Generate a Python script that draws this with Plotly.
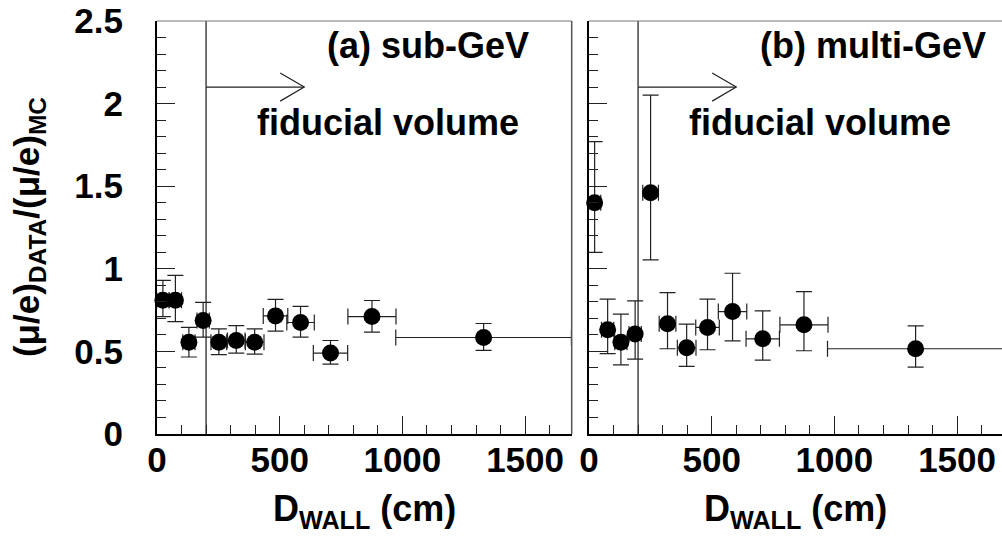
import plotly.graph_objects as go

# ---------------- data ----------------
# (a) sub-GeV
sub_x = [24, 75, 130, 188, 252, 323, 398, 483, 585, 707, 876, 1331]
sub_xerr = [25, 25, 25, 25, 32, 36, 38, 50, 56, 70, 98, 358]
sub_y = [0.81, 0.81, 0.556, 0.687, 0.556, 0.566, 0.556, 0.715, 0.675, 0.490, 0.711, 0.584]
sub_err_up = [0.12, 0.15, 0.09, 0.11, 0.08, 0.09, 0.08, 0.10, 0.097, 0.076, 0.097, 0.085]
sub_err_dn = [0.10, 0.13, 0.09, 0.10, 0.075, 0.076, 0.072, 0.092, 0.089, 0.067, 0.094, 0.078]

# (b) multi-GeV
mul_x = [23, 76, 130, 188, 251, 320, 398, 483, 585, 708, 876, 1331]
mul_xerr = [25, 25, 25, 25, 32, 34, 38, 48, 58, 68, 98, 359]
mul_y = [1.40, 0.631, 0.556, 0.606, 1.461, 0.667, 0.522, 0.645, 0.741, 0.576, 0.661, 0.516]
mul_err_up = [0.37, 0.185, 0.17, 0.20, 0.59, 0.189, 0.143, 0.171, 0.232, 0.169, 0.201, 0.139]
mul_err_dn = [0.30, 0.144, 0.137, 0.153, 0.407, 0.151, 0.113, 0.135, 0.177, 0.129, 0.157, 0.111]

panel_labels = ["(a) sub-GeV", "(b) multi-GeV"]
fiducial_label = "fiducial volume"
x_title = "D<sub>WALL</sub> (cm)"
y_title = "(μ/e)<sub>DATA</sub>/(μ/e)<sub>MC</sub>"

FIDUCIAL_CUT = 200     # cm
ARROW_END = 600        # cm
ARROW_Y = 2.1
X_MAX = 1690
Y_MAX = 2.5

FONT = "Liberation Sans, Arial, Helvetica, sans-serif"

fig = go.Figure()

def add_panel(xs, xe, ys, eu, ed, xa, ya):
    # fiducial cut line
    fig.add_trace(go.Scatter(
        x=[FIDUCIAL_CUT, FIDUCIAL_CUT], y=[0, Y_MAX], mode="lines",
        line=dict(color="#444", width=1.5), xaxis=xa, yaxis=ya,
        showlegend=False, hoverinfo="skip"))
    # arrow shaft + open head
    fig.add_trace(go.Scatter(
        x=[FIDUCIAL_CUT, ARROW_END, None, ARROW_END - 98, ARROW_END, ARROW_END - 98],
        y=[ARROW_Y, ARROW_Y, None, ARROW_Y + 0.085, ARROW_Y, ARROW_Y - 0.085],
        mode="lines", line=dict(color="#222", width=1.2), xaxis=xa, yaxis=ya,
        showlegend=False, hoverinfo="skip"))
    fig.add_trace(go.Scatter(
        x=xs, y=ys, mode="markers",
        marker=dict(symbol="circle", size=17, color="black"),
        error_x=dict(type="data", array=xe, symmetric=True, color="#222",
                     thickness=1.2, width=8),
        error_y=dict(type="data", array=eu, arrayminus=ed, symmetric=False,
                     color="#222", thickness=1.2, width=8),
        cliponaxis=False, xaxis=xa, yaxis=ya, showlegend=False))

add_panel(sub_x, sub_xerr, sub_y, sub_err_up, sub_err_dn, "x", "y")
add_panel(mul_x, mul_xerr, mul_y, mul_err_up, mul_err_dn, "x2", "y2")

L, T, B = 157, 21, 102
W, H = 1002, 536
pw = W - L
d1 = (571.7 - L) / pw
d2 = (589 - L) / pw

xcommon = dict(
    range=[0, X_MAX], dtick=500, tick0=0, ticks="inside", ticklen=18,
    tickwidth=1, tickcolor="#222", showline=True, linecolor="black",
    linewidth=2, showgrid=False, zeroline=False, automargin=False,
    tickfont=dict(family=FONT, size=35, color="black", weight="bold"),
    ticklabelstandoff=-6,
    minor=dict(dtick=100, ticks="inside", ticklen=9, tickcolor="#222",
               tickwidth=1, showgrid=False),
)
ycommon = dict(
    range=[0, Y_MAX], dtick=0.5, tick0=0, ticks="inside", ticklen=18,
    tickwidth=1, tickcolor="#222", showline=True, linecolor="black",
    linewidth=2, showgrid=False, zeroline=False, automargin=False,
    tickfont=dict(family=FONT, size=35, color="black", weight="bold"),
    minor=dict(dtick=0.1, ticks="inside", ticklen=9, tickcolor="#222",
               tickwidth=1, showgrid=False),
)

x2range = [0, (W - 589) / ((571.7 - L) / X_MAX)]

fig.update_layout(
    width=W, height=H,
    margin=dict(l=L, r=0, t=T, b=B),
    paper_bgcolor="white", plot_bgcolor="white",
    xaxis=dict(**xcommon, domain=[0, d1], anchor="y"),
    xaxis2=dict(**{**xcommon, "range": x2range}, domain=[d2, 1], anchor="y2"),
    yaxis=dict(**ycommon, anchor="x", ticklabelstandoff=25),
    yaxis2=dict(**ycommon, anchor="x2", showticklabels=False),
)

# frame top / right edges
for xr, yr, right in [("x domain", "y domain", True), ("x2 domain", "y2 domain", False)]:
    fig.add_shape(type="line", xref=xr, yref=yr, x0=0, x1=1, y0=1, y1=1,
                  line=dict(color="#777", width=1.2))
    if right:
        fig.add_shape(type="line", xref=xr, yref=yr, x0=1, x1=1, y0=0, y1=1,
                      line=dict(color="#555", width=1.5))

txt = dict(family=FONT, size=36, color="black", weight="bold")
fig.add_annotation(x=1525, y=2.35, xref="x", yref="y", text=panel_labels[0],
                   showarrow=False, xanchor="right", yanchor="middle", font=txt)
fig.add_annotation(x=1625, y=2.35, xref="x2", yref="y2", text=panel_labels[1],
                   showarrow=False, xanchor="right", yanchor="middle", font=txt)
for xr, yr in [("x", "y"), ("x2", "y2")]:
    fig.add_annotation(x=398, y=1.885, xref=xr, yref=yr, text=fiducial_label,
                       showarrow=False, xanchor="left", yanchor="middle", font=txt)
for xr in ["x domain", "x2 domain"]:
    fig.add_annotation(x=0.5, y=-0.186, xref=xr, yref="paper", text=x_title,
                       showarrow=False, xanchor="center", yanchor="middle", font=txt)
fig.add_annotation(x=-0.152, y=0.5, xref="paper", yref="paper", text=y_title,
                   textangle=-90, showarrow=False, xanchor="center",
                   yanchor="middle", font=dict(family=FONT, size=35,
                                               color="black", weight="bold"))

fig.write_html("out.html", config={"displayModeBar": False},
               post_script="document.body.style.margin='0';document.body.style.overflow='hidden';")
